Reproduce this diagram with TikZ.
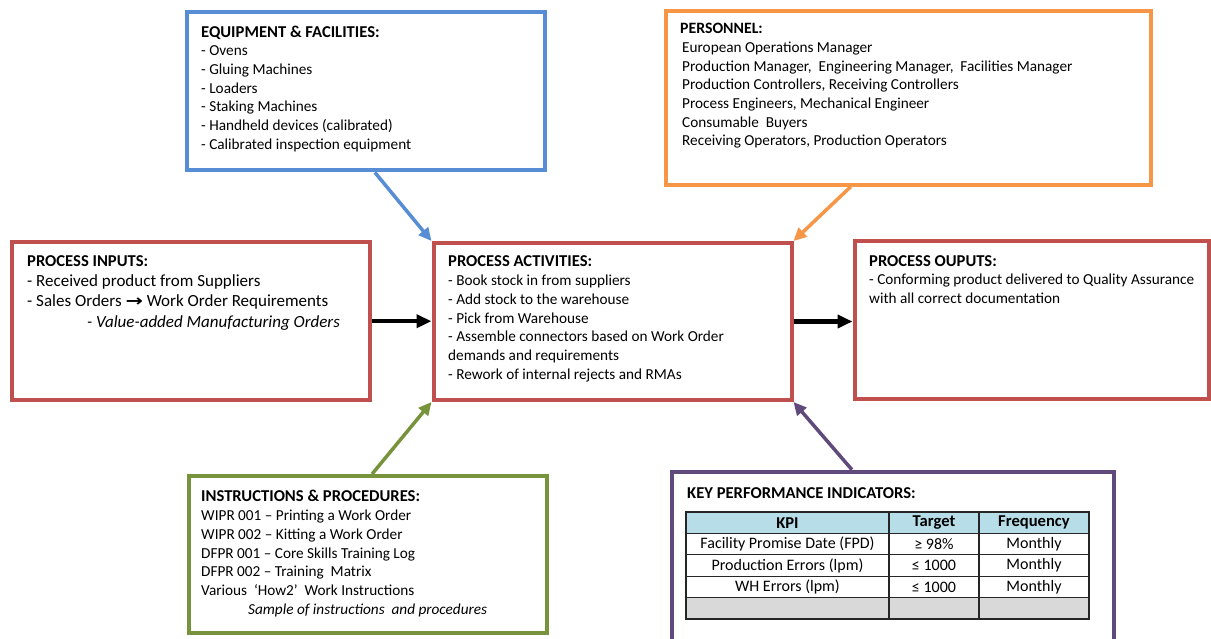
\documentclass[tikz,border=0pt]{standalone}
\usepackage{fontspec}
\setmainfont{Carlito}
\newfontfamily\symfont{DejaVu Sans}
\usetikzlibrary{arrows.meta, calc, positioning}
\definecolor{eqblue}{RGB}{86,141,212}
\definecolor{perorange}{RGB}{247,150,70}
\definecolor{procred}{RGB}{192,80,77}
\definecolor{insgreen}{RGB}{119,147,60}
\definecolor{kpipurple}{RGB}{96,74,123}
\definecolor{kpihead}{RGB}{183,222,232}
\definecolor{kpigray}{RGB}{217,217,217}
% first line always 12pt above its baseline
\newcommand{\topstrut}{\rule{0pt}{12pt}}
\newcommand{\hd}[1]{{\fontsize{16.6}{18.7}\selectfont\bfseries #1}}
\tikzset{
    pbox/.style={draw, line width=4pt, outer sep=2pt, inner sep=0pt,
        minimum width=358pt, minimum height=158pt},
    ptext/.style={anchor=north west, align=left, inner sep=0pt,
        font=\fontsize{15.25}{18.7}\selectfont},
    feed/.style={line width=3.5pt, -{Triangle[length=13pt,width=12pt]}},
    flow/.style={line width=4pt, black, -{Triangle[length=15pt,width=13pt]}},
    kcell/.style={draw=black!85, line width=1.2pt, inner sep=0pt,
        minimum height=21.4pt, font=\fontsize{16}{17}\selectfont}
}

\begin{document}
\begin{tikzpicture}[x=1pt, y=-1pt]
    \fill[white] (0,0) rectangle (1211,639);
    \useasboundingbox (0,0) rectangle (1211,639);
    \clip (0,0) rectangle (1211,639);
    % boxes
    \node[pbox, draw=eqblue] (eq) at (366.25,91.5) {};
    \node[pbox, draw=perorange, minimum width=485pt, minimum height=174pt] (pers) at (908.5,97.6) {};
    \node[pbox, draw=procred] (inp) at (191.1,321.2) {};
    \node[pbox, draw=procred, minimum height=157pt] (act) at (612.5,321.5) {};
    \node[pbox, draw=procred, minimum width=354.5pt] (out) at (1031.75,320.2) {};
    \node[pbox, draw=insgreen, minimum height=156.5pt] (ins) at (367.75,554.25) {};
    \node[pbox, draw=kpipurple, minimum width=442pt, minimum height=169.3pt] (kpi) at (893.4,556.35) {};
    % texts (y = first baseline - 12)
    \node[ptext] (eqtxt) at (201,25) {\topstrut\hd{EQUIPMENT \& FACILITIES:}\\
        - Ovens\\- Gluing Machines\\- Loaders\\- Staking Machines\\
        - Handheld devices (calibrated)\\- Calibrated inspection equipment};
    \node[ptext] (perstxt) at (680,21.5) {\topstrut{\fontsize{15.8}{18.7}\selectfont\bfseries PERSONNEL:}\\
        \hspace*{2pt}European Operations Manager\\
        \hspace*{2pt}Production Manager, \ Engineering Manager, \ Facilities Manager\\
        \hspace*{2pt}Production Controllers, Receiving Controllers\\
        \hspace*{2pt}Process Engineers, Mechanical Engineer\\
        \hspace*{2pt}Consumable \ Buyers\\
        \hspace*{2pt}Receiving Operators, Production Operators};
    \node[ptext] (inphead) at (27,254) {\topstrut\hd{PROCESS INPUTS:}};
    \node[ptext, font=\fontsize{17}{20.3}\selectfont] (inptxt) at (27,273.5) {%
        \rule{0pt}{13pt}- Received product from Suppliers\\
        - Sales Orders {\symfont\bfseries\fontsize{16}{16}\selectfont\scalebox{1.3}[1.0]{→}} Work Order Requirements\\
        \hspace*{60pt}\textit{- Value-added Manufacturing Orders}};
    \node[ptext] (acttxt) at (448,254.7) {\topstrut\hd{PROCESS ACTIVITIES:}\\
        - Book stock in from suppliers\\- Add stock to the warehouse\\
        - Pick from Warehouse\\- Assemble connectors based on Work Order\\
        demands and requirements\\- Rework of internal rejects and RMAs};
    \node[ptext] (outtxt) at (869,254) {\topstrut\hd{PROCESS OUPUTS:}\\
        - Conforming product delivered to Quality Assurance\\
        with all correct documentation};
    \node[ptext] (instxt) at (201,489.7) {\topstrut\hd{INSTRUCTIONS \& PROCEDURES:}\\
        WIPR 001 – Printing a Work Order\\WIPR 002 – Kitting a Work Order\\
        DFPR 001 – Core Skills Training Log\\DFPR 002 – Training \ Matrix\\
        Various \ ‘How2’ \ Work Instructions\\
        \hspace*{47pt}\textit{Sample of instructions \ and procedures}};
    \node[ptext] (kpitxt) at (687,486) {\topstrut\hd{KEY PERFORMANCE INDICATORS:}};
    % kpi table
    \foreach \r/\k/\t/\f/\c in {1/\hd{KPI}/\hd{Target}/\hd{Frequency}/kpihead,
        2/Facility Promise Date (FPD)/≥ 98\%/Monthly/white,
        3/Production Errors (lpm)/≤ 1000/Monthly/white,
        4/WH Errors (lpm)/≤ 1000/Monthly/white,
        5/{}/{}/{}/kpigray}{
    \node[kcell, fill=\c, minimum width=203pt] (k\r-1) at (787.5,{512+21.4*(\r-0.5)}) {\k};
    \node[kcell, fill=\c, minimum width=90pt] (k\r-2) at (934,{512+21.4*(\r-0.5)}) {\t};
    \node[kcell, fill=\c, minimum width=110pt] (k\r-3) at (1034,{512+21.4*(\r-0.5)}) {\f};
    }
    % connectors
    \draw[feed, eqblue] ($(eq.south west)!0.524!(eq.south east)$) -- (act.north west);
    \draw[feed, perorange] ($(pers.south west)!0.382!(pers.south east)$) -- (act.north east);
    \draw[feed, insgreen] ($(ins.north west)!0.512!(ins.north east)$) -- (act.south west);
    \draw[feed, kpipurple] ($(kpi.north west)!0.407!(kpi.north east)$) -- (act.south east);
    \draw[flow] (inp.east) -- (inp.east -| act.west);
    \draw[flow] (act.east) -- (act.east -| out.west);
\end{tikzpicture}
\end{document}
